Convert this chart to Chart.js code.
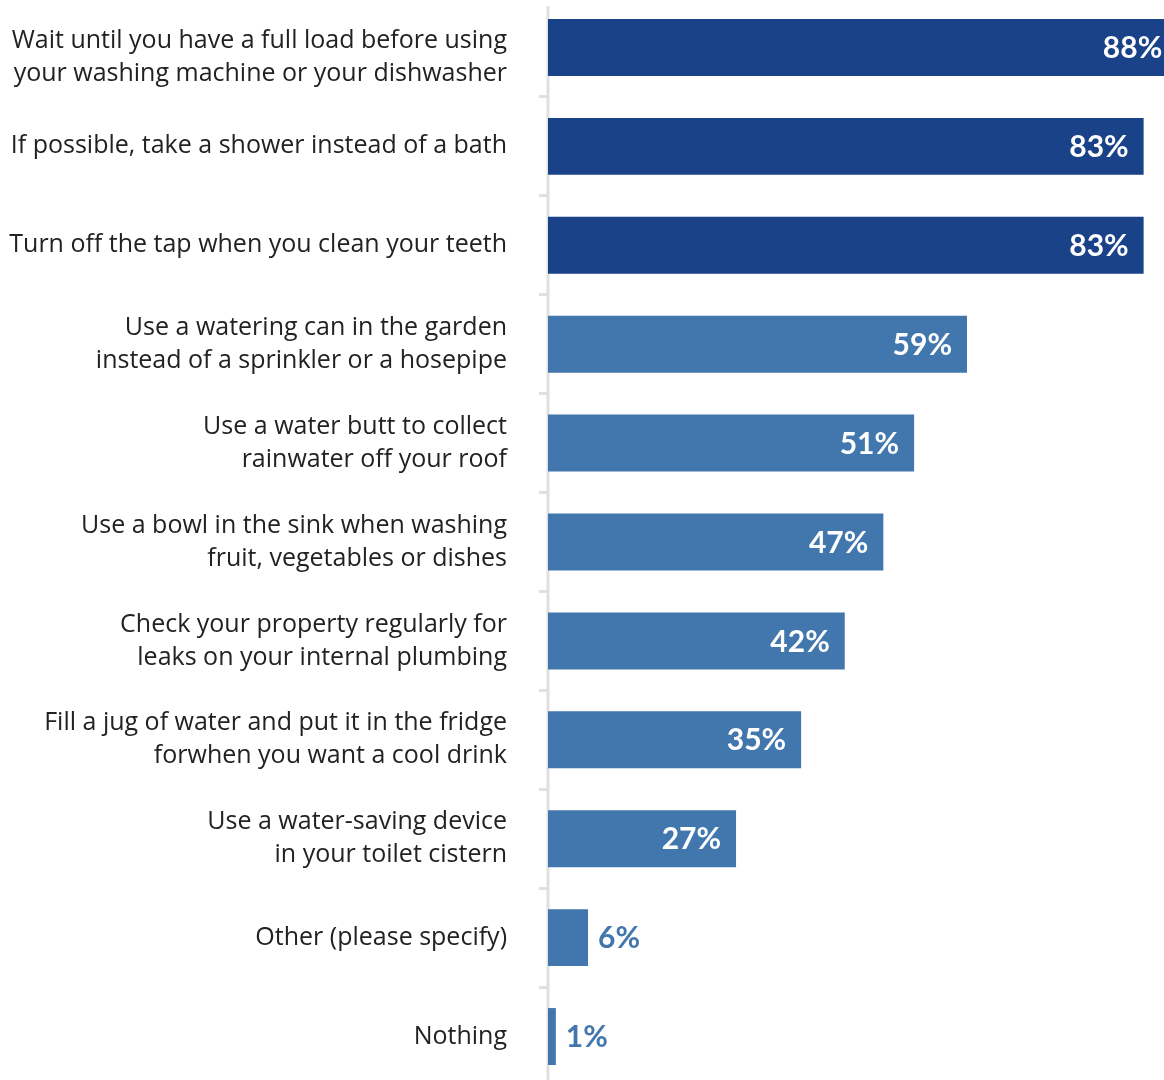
<!DOCTYPE html>
<html>
<head>
<meta charset="utf-8">
<script src="https://cdn.jsdelivr.net/npm/chart.js@4/dist/chart.umd.min.js"></script>
<style>
  html, body { margin: 0; padding: 0; background: #fff; overflow: hidden; width: 1164px; height: 1080px; }
  #wrap { position: absolute; left: 0; top: -2px; width: 1164px; height: 1088px; }
</style>
</head>
<body>
<div id="wrap"><canvas id="c"></canvas></div>
<script>
const categories = [
  ["Wait until you have a full load before using", "your washing machine or your dishwasher"],
  "If possible, take a shower instead of a bath",
  "Turn off the tap when you clean your teeth",
  ["Use a watering can in the garden", "instead of a sprinkler or a hosepipe"],
  ["Use a water butt to collect", "rainwater off your roof"],
  ["Use a bowl in the sink when washing", "fruit, vegetables or dishes"],
  ["Check your property regularly for", "leaks on your internal plumbing"],
  ["Fill a jug of water and put it in the fridge", "forwhen you want a cool drink"],
  ["Use a water-saving device", "in your toilet cistern"],
  "Other (please specify)",
  "Nothing"
];
// bar lengths (percent)
const values = [88.0, 83.3, 83.3, 58.6, 51.2, 46.9, 41.5, 35.4, 26.3, 5.6, 1.1];
// labels printed on the bars
const valueLabels = ["88%", "83%", "83%", "59%", "51%", "47%", "42%", "35%", "27%", "6%", "1%"];
const highlighted = [true, true, true, false, false, false, false, false, false, false, false];

const DARK = '#1a4289';
const MID = '#4277ad';

const labelPlugin = {
  id: 'barLabels',
  afterDatasetsDraw(chart) {
    const ctx = chart.ctx;
    const meta = chart.getDatasetMeta(0);
    ctx.save();
    ctx.font = 'bold 30px Lato';
    ctx.textBaseline = 'middle';
    meta.data.forEach((bar, i) => {
      const txt = valueLabels[i];
      const w = ctx.measureText(txt).width;
      const width = bar.x - bar.base;
      if (width > w + 30) {
        ctx.fillStyle = '#ffffff';
        ctx.textAlign = 'right';
        ctx.fillText(txt, bar.x - 15, bar.y + 1);
      } else {
        ctx.fillStyle = MID;
        ctx.textAlign = 'left';
        ctx.fillText(txt, bar.x + 10, bar.y + 1);
      }
    });
    ctx.restore();
  }
};

const axisLinePlugin = {
  id: 'axisLine',
  beforeDraw(chart) {
    const s = chart.scales.y;
    const items = s.getLabelItems();
    if (items.length && !items._shifted) {
      items[0].options.translation[1] += 10;
      items._shifted = true;
    }
  },
  beforeDatasetsDraw(chart) {
    const ctx = chart.ctx;
    const x = chart.chartArea.left;
    ctx.save();
    ctx.strokeStyle = '#e0e0e0';
    ctx.lineWidth = 3;
    ctx.beginPath();
    ctx.moveTo(x, 8);
    ctx.lineTo(x, chart.height);
    ctx.stroke();
    ctx.restore();
  }
};

new Chart(document.getElementById('c'), {
  type: 'bar',
  data: {
    labels: categories,
    datasets: [{
      data: values,
      backgroundColor: highlighted.map(h => h ? DARK : MID),
      borderWidth: 0,
      categoryPercentage: 1,
      barPercentage: 0.576
    }]
  },
  options: {
    indexAxis: 'y',
    responsive: true,
    maintainAspectRatio: false,
    animation: false,
    layout: { padding: 0 },
    plugins: {
      legend: { display: false },
      tooltip: { enabled: false },
      title: { display: false }
    },
    scales: {
      x: {
        display: false,
        min: 0,
        max: 86.15
      },
      y: {
        border: { display: false },
        grid: {
          display: true,
          drawOnChartArea: false,
          drawTicks: true,
          tickLength: 9,
          lineWidth: 3,
          color: '#e0e0e0',
          offset: true
        },
        ticks: {
          padding: 32,
          color: '#222222',
          font: { family: "'Open Sans'", size: 25, lineHeight: 1.32 },
          autoSkip: false
        },
        afterFit(scale) {
          scale.width = 548;
          scale.paddingTop = 0;
          scale.paddingBottom = 0;
        }
      }
    }
  },
  plugins: [axisLinePlugin, labelPlugin]
});
</script>
</body>
</html>
